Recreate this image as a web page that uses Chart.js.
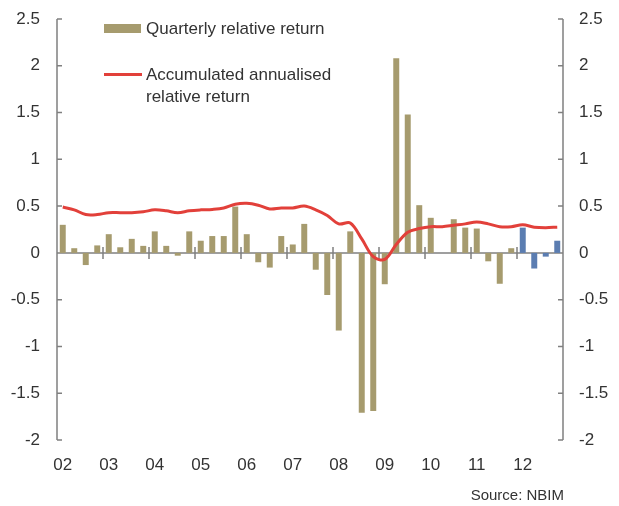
<!DOCTYPE html>
<html>
<head>
<meta charset="utf-8">
<script src="https://cdn.jsdelivr.net/npm/chart.js@4"></script>
<style>
  body { margin: 0; background: #fff; }
  #wrap { position: relative; width: 619px; height: 506px; font-family: "Liberation Sans", Arial, sans-serif; color: #333; }
  #grafico { position: absolute; left: 0; top: 0; }
  .sw { position: absolute; }
  .txt { position: absolute; font-size: 17px; white-space: nowrap; }
</style>
</head>
<body>
<div id="wrap">
  <canvas id="grafico" width="619" height="506"></canvas>
  <div class="sw" style="left:104px; top:24px; width:37px; height:9px; background:#A69B6E;"></div>
  <div class="txt" style="left:146px; top:19px; line-height:20px;">Quarterly relative return</div>
  <div class="sw" style="left:104px; top:73px; width:38px; height:3px; background:#E2403A;"></div>
  <div class="txt" style="left:146px; top:64px; line-height:21.7px;">Accumulated annualised<br>relative return</div>
  <div class="txt" style="right:55px; top:486px; font-size:15px; line-height:18px;">Source: NBIM</div>
</div>
<script>
const years = ['02', '03', '04', '05', '06', '07', '08', '09', '10', '11', '12']
const highlightYear = '12'

// quarterly relative return, Q1..Q4 per year
const quarterly = [
    0.30, 0.05, -0.13, 0.08,
    0.20, 0.06, 0.15, 0.075,
    0.23, 0.075, -0.03, 0.23,
    0.13, 0.18, 0.18, 0.495,
    0.20, -0.10, -0.157, 0.18,
    0.09, 0.31, -0.18, -0.45,
    -0.83, 0.23, -1.71, -1.69,
    -0.335, 2.08, 1.48, 0.51,
    0.375, 0, 0.36, 0.27,
    0.26, -0.09, -0.33, 0.05,
    0.27, -0.167, -0.04, 0.13
]

// accumulated annualised relative return
const accumulated = [
    0.49, 0.46, 0.41, 0.41,
    0.43, 0.43, 0.43, 0.44,
    0.46, 0.45, 0.43, 0.45,
    0.46, 0.465, 0.48, 0.52,
    0.53, 0.51, 0.47, 0.48,
    0.48, 0.50, 0.46, 0.40,
    0.31, 0.32, 0.15, -0.04,
    -0.07, 0.09, 0.22, 0.26,
    0.28, 0.28, 0.295, 0.31,
    0.33, 0.31, 0.28, 0.28,
    0.30, 0.275, 0.27, 0.275
]

const yTicks = [2.5, 2, 1.5, 1, 0.5, 0, -0.5, -1, -1.5, -2]

const labels = []
years.forEach(y => { for (let q = 1; q <= 4; q++) labels.push(y + ' Q' + q) })

const olive = '#A69B6E'
const blue = '#5B7DB1'
const red = '#E2403A'
const axisGrey = '#808080'

const axisLines = {
    id: 'axisLines',
    beforeDatasetsDraw(chart) {
        const { ctx, chartArea: a } = chart
        const x = chart.scales.x
        const y = chart.scales.y
        const y0 = y.getPixelForValue(0)
        ctx.save()
        ctx.strokeStyle = axisGrey
        ctx.lineWidth = 1.5
        ctx.beginPath()
        ctx.moveTo(a.left, a.top); ctx.lineTo(a.left, a.bottom)
        ctx.moveTo(a.right, a.top); ctx.lineTo(a.right, a.bottom)
        yTicks.forEach(v => {
            const p = y.getPixelForValue(v)
            ctx.moveTo(a.left, p); ctx.lineTo(a.left + 5, p)
            ctx.moveTo(a.right, p); ctx.lineTo(a.right - 5, p)
        })
        ctx.moveTo(a.left, y0); ctx.lineTo(a.right, y0)
        for (let i = 4; i < labels.length; i += 4) {
            const px = (x.getPixelForValue(i - 1) + x.getPixelForValue(i)) / 2
            ctx.moveTo(px, y0 - 6); ctx.lineTo(px, y0 + 6)
        }
        ctx.stroke()
        ctx.restore()
    }
}

Chart.defaults.font.family = '"Liberation Sans", Arial, sans-serif'
Chart.defaults.font.size = 17
Chart.defaults.color = '#333'

const ctx = document.getElementById('grafico')

const yAxis = (pos, w, pad) => ({
    type: 'linear',
    position: pos,
    min: -2,
    max: 2.5,
    border: { display: false },
    grid: { display: false, drawTicks: false },
    afterBuildTicks: s => { s.ticks = yTicks.map(v => ({ value: v })) },
    afterFit: s => { s.width = w; s.paddingTop = 0; s.paddingBottom = 0 },
    ticks: { padding: pad, callback: v => String(v) }
})

new Chart(ctx, {
    type: 'bar',
    data: {
        labels: labels,
        datasets: [{
            type: 'line',
            label: 'Accumulated annualised relative return',
            data: accumulated,
            borderColor: red,
            borderWidth: 3,
            pointRadius: 0,
            tension: 0.35,
            order: 0
        }, {
            label: 'Quarterly relative return',
            data: quarterly,
            backgroundColor: labels.map(l => l.startsWith(highlightYear) ? blue : olive),
            categoryPercentage: 1,
            barPercentage: 0.52,
            order: 1
        }]
    },
    options: {
        responsive: false,
        animation: false,
        devicePixelRatio: 1,
        layout: { padding: { top: 19, left: 0, right: 0, bottom: 0 } },
        plugins: { legend: { display: false }, tooltip: { enabled: false } },
        scales: {
            x: {
                border: { display: false },
                grid: { display: false, drawTicks: false },
                afterFit: s => { s.height = 66 },
                ticks: {
                    autoSkip: false,
                    maxRotation: 0,
                    padding: 15,
                    callback: (v, i) => i % 4 === 0 ? years[i / 4] : ''
                }
            },
            y: yAxis('left', 57, 17),
            y2: yAxis('right', 56, 16)
        }
    },
    plugins: [axisLines]
})
</script>
</body>
</html>
